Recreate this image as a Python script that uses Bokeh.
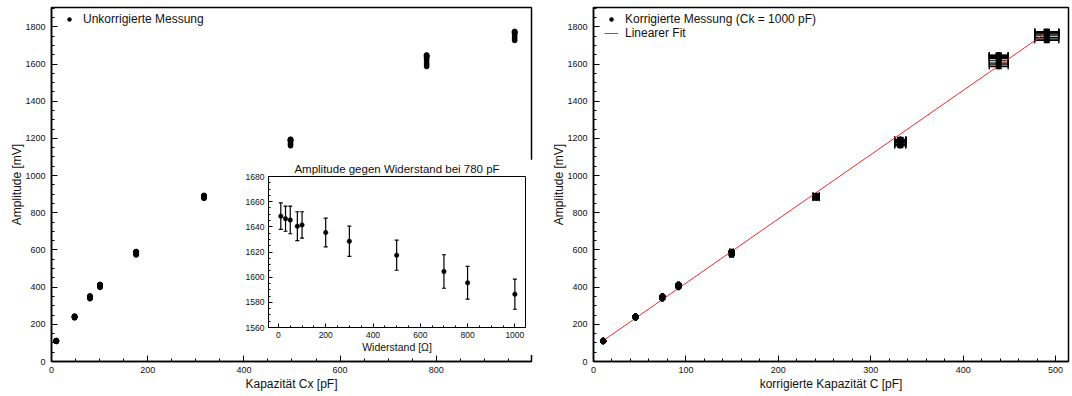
from bokeh.plotting import figure
from bokeh.models import (ColumnDataSource, Whisker, TeeHead, Range1d, Legend,
                          LegendItem, SingleIntervalTicker)
from bokeh.layouts import row
from bokeh.embed import file_html
from bokeh.resources import INLINE

# ---------------- data ----------------
resistances = [10, 30, 50, 80, 100, 200, 300, 500, 700, 800, 1000]  # Ohm

cx_values = [10, 48, 80, 101, 176, 317, 497, 780, 963]            # pF (uncorrected)
c_corrected = [10.5, 45.5, 74.5, 92, 149.5, 241, 332, 438.5, 490.5]  # pF (corrected)
c_corrected_err = [0.2, 0.5, 0.8, 1.0, 1.8, 3.3, 6.0, 10.2, 13.0]

amp_cx10 = [112, 112, 111, 111, 111, 111, 110, 110, 109, 109, 108]
amp_cx48 = [243, 243, 242, 242, 242, 241, 240, 239, 237, 236, 235]
amp_cx80 = [352, 351, 351, 350, 350, 348, 347, 345, 342, 340, 338]
amp_cx101 = [414, 413, 413, 412, 412, 410, 408, 406, 403, 401, 399]
amp_cx176 = [591, 590, 590, 589, 589, 587, 585, 582, 578, 576, 573]
amp_cx317 = [893, 892, 892, 891, 891, 889, 887, 885, 882, 880, 878]
amp_cx497 = [1195, 1194, 1193, 1191, 1191, 1188, 1185, 1179, 1171, 1166, 1160]
amp_cx780 = [1648.5, 1646.5, 1645.5, 1640.5, 1641.5, 1635.5, 1628.5, 1617.5, 1604.5, 1595.5, 1586.5]
amp_cx963 = [1775, 1774, 1773, 1770, 1770, 1766, 1761, 1752, 1742, 1734, 1727]
amp_err = [2, 3, 4, 4, 5, 7, 10, 11, 12]  # mV, per capacitance

inset_err = [10.5, 10, 11, 11.5, 10.5, 11.5, 12, 12, 13.3, 13, 12]

fit_intercept = 76.0   # mV
fit_slope = 3.455      # mV / pF

amplitudes = [amp_cx10, amp_cx48, amp_cx80, amp_cx101, amp_cx176,
              amp_cx317, amp_cx497, amp_cx780, amp_cx963]

# ---------------- build sources ----------------
mx, my, cx_, cy, cxl, cxu, cyl, cyu = [], [], [], [], [], [], [], []
for cx, cc, amps, ae, ce in zip(cx_values, c_corrected, amplitudes, amp_err, c_corrected_err):
    for a in amps:
        mx.append(cx); my.append(a)
        cx_.append(cc); cy.append(a)
        cxl.append(cc - ce); cxu.append(cc + ce)
        cyl.append(a - ae); cyu.append(a + ae)

src_main = ColumnDataSource(dict(x=mx, y=my))
src_corr = ColumnDataSource(dict(x=cx_, y=cy, xl=cxl, xu=cxu, yl=cyl, yu=cyu))
src_inset = ColumnDataSource(dict(
    x=resistances, y=amp_cx780,
    yl=[a - e for a, e in zip(amp_cx780, inset_err)],
    yu=[a + e for a, e in zip(amp_cx780, inset_err)]))
fx = [min(c_corrected), max(c_corrected)]
src_fit = ColumnDataSource(dict(x=fx, y=[fit_intercept + fit_slope * v for v in fx]))

FONT = "Liberation Sans"


def style(p, xint, xminor, yint, yminor, tick_font="9px", title_font="12px",
          major=6, minor=3, lw=1.5, lstand=5, tstand=1):
    p.xgrid.visible = False
    p.ygrid.visible = False
    p.xaxis.ticker = SingleIntervalTicker(interval=xint, num_minor_ticks=xminor)
    p.yaxis.ticker = SingleIntervalTicker(interval=yint, num_minor_ticks=yminor)
    for ax in p.axis:
        ax.major_tick_in = major
        ax.major_tick_out = 0
        ax.minor_tick_in = minor
        ax.minor_tick_out = 0
        ax.axis_line_color = "black"
        ax.axis_line_width = lw
        ax.major_tick_line_color = "black"
        ax.minor_tick_line_color = "black"
        ax.major_tick_line_width = 1
        ax.minor_tick_line_width = 1
        ax.major_label_text_font = FONT
        ax.major_label_text_font_size = tick_font
        ax.major_label_text_color = "#111111"
        ax.major_label_standoff = lstand
        ax.axis_label_text_font = FONT
        ax.axis_label_text_font_size = title_font
        ax.axis_label_text_font_style = "normal"
        ax.axis_label_text_color = "#111111"
        ax.axis_label_standoff = tstand
    p.outline_line_color = "black"
    p.outline_line_width = lw
    p.background_fill_color = "white"
    p.border_fill_color = "white"


def make_legend(items, y):
    return Legend(items=items, location=(7, y), padding=4, margin=0, spacing=0,
                  glyph_width=14, glyph_height=10, label_height=14, label_standoff=7,
                  label_text_font=FONT, label_text_font_size="12px",
                  label_text_color="#111111",
                  border_line_alpha=0, background_fill_alpha=0)


# ---------------- left: uncorrected ----------------
left = figure(frame_width=480, frame_height=354, min_border_left=51, min_border_right=5,
              min_border_top=7, min_border_bottom=35,
              x_range=Range1d(0, 998), y_range=Range1d(0, 1904),
              output_backend="svg", toolbar_location=None,
              x_axis_label="Kapazität Cx [pF]", y_axis_label="Amplitude [mV]")
style(left, 200, 4, 200, 4)
left.yaxis.major_label_standoff = 6
left.yaxis.axis_label_standoff = -2
r_left = left.scatter("x", "y", source=src_main, size=5, marker="circle",
                      fill_color="black", line_color="black", line_width=0.5)
left.add_layout(make_legend([LegendItem(label="Unkorrigierte Messung", renderers=[r_left])], 331))

# ---------------- right: corrected ----------------
right = figure(frame_width=475, frame_height=354, min_border_left=57, min_border_right=4,
               min_border_top=7, min_border_bottom=35,
               x_range=Range1d(0, 514), y_range=Range1d(0, 1904),
               output_backend="svg", toolbar_location=None,
               x_axis_label="korrigierte Kapazität C [pF]", y_axis_label="Amplitude [mV]")
style(right, 100, 5, 200, 4)
right.yaxis.major_label_standoff = 6
right.yaxis.axis_label_standoff = -2

r_fit = right.line("x", "y", source=src_fit, line_color="#ee2a2a", line_width=1)
right.add_layout(Whisker(source=src_corr, base="y", lower="xl", upper="xu", dimension="width",
                         line_color="black", line_width=1.2,
                         lower_head=TeeHead(size=6, line_color="black", line_width=1.2),
                         upper_head=TeeHead(size=6, line_color="black", line_width=1.2)))
right.add_layout(Whisker(source=src_corr, base="x", lower="yl", upper="yu", dimension="height",
                         line_color="black", line_width=1.2,
                         lower_head=TeeHead(size=6, line_color="black", line_width=1.2),
                         upper_head=TeeHead(size=6, line_color="black", line_width=1.2)))
r_corr = right.scatter("x", "y", source=src_corr, size=5, marker="circle",
                       fill_color="black", line_color="black", line_width=0.5)
right.add_layout(make_legend(
    [LegendItem(label="Korrigierte Messung (Ck = 1000 pF)", renderers=[r_corr]),
     LegendItem(label="Linearer Fit", renderers=[r_fit])], 317))

# ---------------- inset ----------------
inset = figure(frame_width=257, frame_height=151, min_border_left=36, min_border_right=11,
               min_border_top=17, min_border_bottom=27,
               x_range=Range1d(-42, 1045), y_range=Range1d(1560, 1680),
               output_backend="svg", toolbar_location=None,
               title="Amplitude gegen Widerstand bei 780 pF",
               x_axis_label="Widerstand [Ω]",
               styles={"position": "absolute", "left": "232px", "top": "159px", "z-index": "5"})
style(inset, 200, 4, 20, 4, tick_font="8.5px", title_font="10.5px",
      major=4, minor=2, lw=1, lstand=4, tstand=0)
inset.title.text_font = FONT
inset.title.text_font_size = "11.5px"
inset.title.text_font_style = "normal"
inset.title.align = "center"
inset.title.standoff = 3
inset.title.text_color = "#111111"
inset.add_layout(Whisker(source=src_inset, base="x", lower="yl", upper="yu", dimension="height",
                         line_color="black", line_width=1.2,
                         lower_head=TeeHead(size=4, line_color="black", line_width=1.2),
                         upper_head=TeeHead(size=4, line_color="black", line_width=1.2)))
inset.scatter("x", "y", source=src_inset, size=4.5, marker="circle",
              fill_color="black", line_color="black", line_width=0.5)

layout = row(left, right)
open("out.html", "w").write(file_html([layout, inset], INLINE))
